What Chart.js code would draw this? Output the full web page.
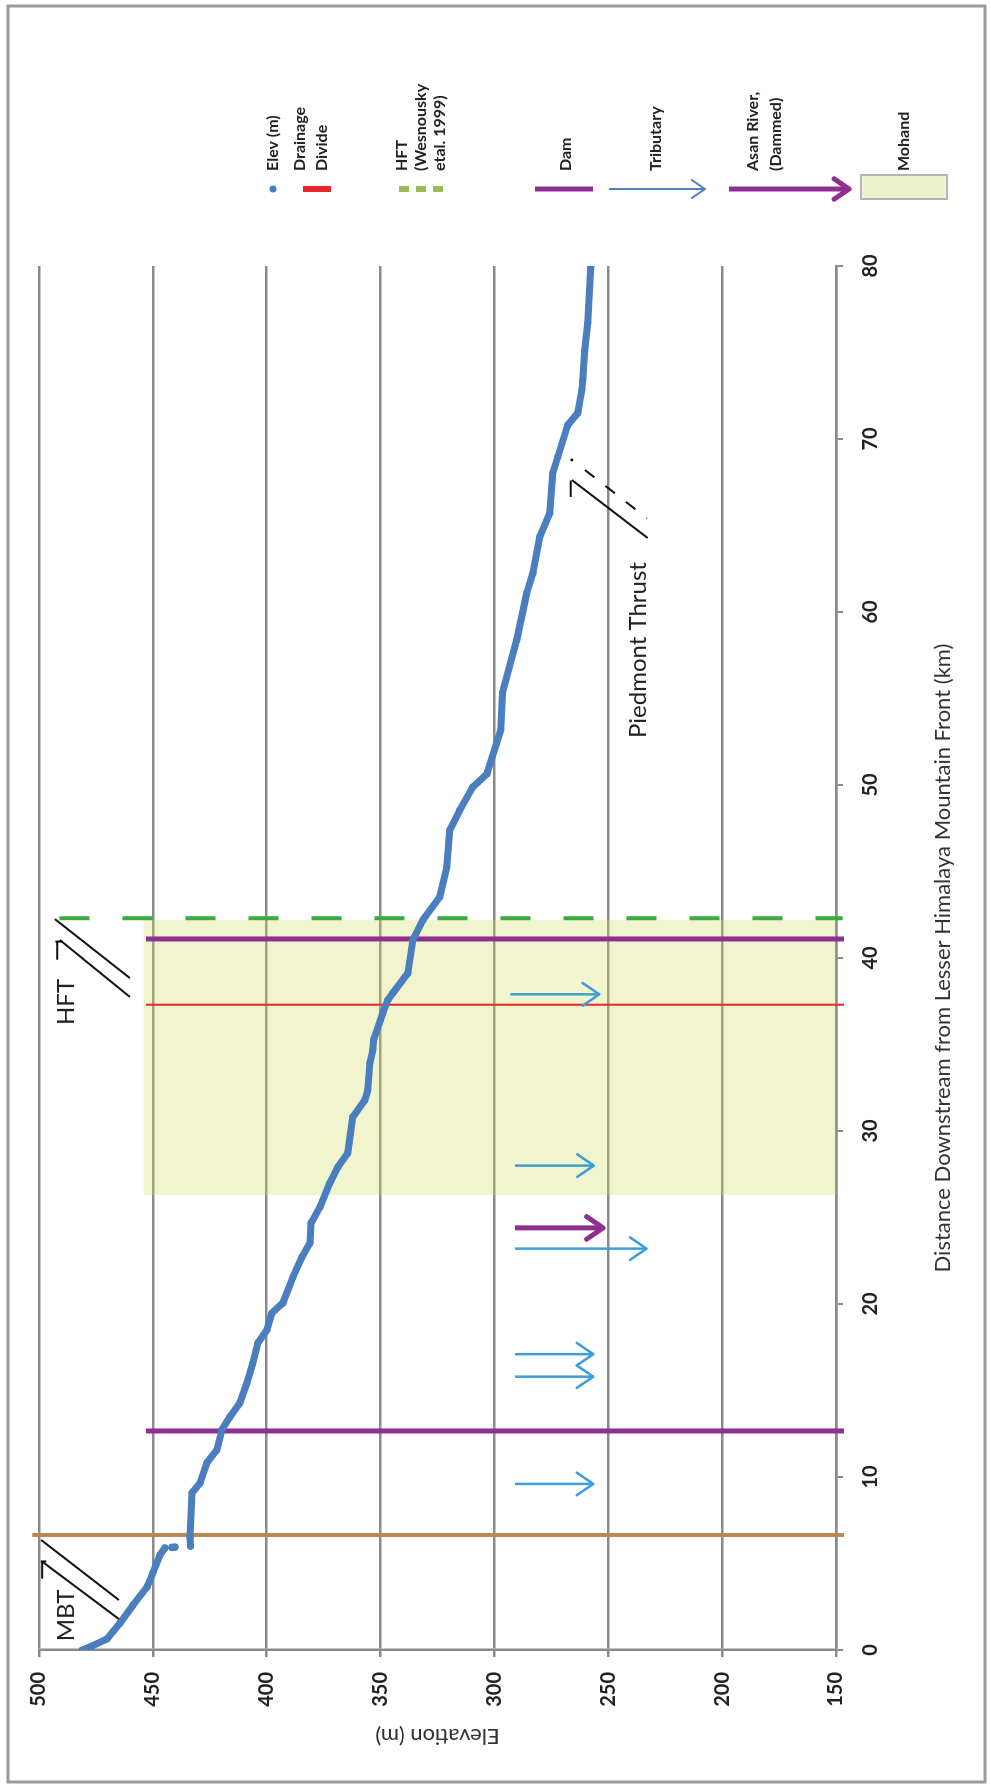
<!DOCTYPE html>
<html>
<head>
<meta charset="utf-8">
<script src="https://cdn.jsdelivr.net/npm/chart.js@4.4.1/dist/chart.umd.min.js"></script>
<style>
  html, body { margin: 0; padding: 0; background: #fff; }
  body { width: 991px; height: 1787px; overflow: hidden; position: relative; }
  /* the figure is a normal chart turned 90 degrees counter-clockwise */
  #giro { position: absolute; left: 0; top: 0; width: 1787px; height: 991px;
          transform-origin: 0 0; transform: translate(0, 1787px) rotate(-90deg); }
</style>
</head>
<body>
<div id="giro"><canvas id="perfil" width="1787" height="991"></canvas></div>
<script>
// river profile: distance downstream (km) and elevation (m), null = gap in the points
const distKm = [0, 0.23, 0.64, 1.56, 2.6, 3.64, 4.45, 5.49, 5.9, 5.91, 5.92, 5.95, 5.97,
  6.0, 6.53, 9.08, 9.65, 10.81, 11.56, 12.72, 13.47, 14.28, 15.43, 16.59, 17.75, 18.5,
  19.48, 20.06, 21.56, 22.72, 23.53, 24.68, 25.61, 26.99, 27.92, 28.73, 30.81, 31.79,
  32.37, 33.93, 34.68, 35.3, 36.82, 37.57, 37.98, 39.13, 41.04, 42.2, 43.53, 45.26,
  47.4, 48.55, 49.88, 50.64, 53.2, 55.32, 58.38, 61.1, 62.25, 64.34, 65.72, 68.03,
  68.96, 70.81, 71.5, 72.83, 73.41, 75.14, 76.71, 79.94];
const elevM = [481, 476.7, 470.1, 464.4, 458.7, 452.6, 450.0, 446.9, 444.7, null, 441.6, 440.3, null,
  433.5, 433.7, 432.8, 429.3, 426.3, 421.9, 419.7, 416.2, 411.8, 408.7, 406.1, 403.9, 399.9,
  397.7, 392.9, 388.5, 384.5, 381.0, 380.5, 376.6, 372.3, 368.7, 364.4, 362.2, 356.9,
  355.6, 354.7, 353.4, 353.0, 349.0, 346.8, 344.6, 338.0, 335.8, 331.4, 324.0, 320.9,
  319.6, 315.2, 309.5, 303.3, 297.2, 296.5, 290.2, 285.8, 283.1, 280.1, 275.7, 274.4,
  272.2, 267.8, 263.4, 261.6, 261.2, 260.3, 259.0, 257.7];

// vertical markers (km) and their elevation span (m)
const mbtKm = 6.65, mbtSpan = [503, 146.5];
const damKm = [12.66, 41.1], damSpan = [453, 146.5];
const divideKm = 37.3, divideSpan = [453, 146.5];
const hftKm = 42.3, hftSpan = [491, 147];

// tributary arrows: where (km), start and tip (m)
const tribKm = [9.6, 15.8, 17.1, 23.2, 28.0, 37.9];
const tribTop = [291, 291, 291, 291, 291, 293];
const tribTip = [256.6, 256.6, 256.6, 233.2, 256.4, 254];
const asanKm = 24.4, asanTop = 291, asanTip = 252.3;

// Mohand range (km) and top of the shaded block (m)
const mohandKm = [26.3, 42.2], mohandTop = 454;

// axis ticks
const distTicks = [0, 10, 20, 30, 40, 50, 60, 70, 80];
const elevTicks = [150, 200, 250, 300, 350, 400, 450, 500];

const legendLabels = [['Elev (m)'], ['Drainage', 'Divide'], ['HFT', '(Wesnousky', 'etal. 1999)'],
  ['Dam'], ['Tributary'], ['Asan River,', '(Dammed)'], ['Mohand']];

// colours
const azul = '#4a7ebf', vermelho = '#e5262b', verde = '#3bab3f', roxo = '#8f2f8f',
  marrom = '#b9884f', ciano = '#3d9ed9', cinza = '#8a8a8a';

function vline(km, span) { return [{ x: km, y: span[0] }, { x: km, y: span[1] }]; }

const datasets = [];
datasets.push({ label: 'Elev (m)', data: distKm.map((d, i) => ({ x: d, y: elevM[i] })),
  showLine: true, spanGaps: false, borderColor: azul, backgroundColor: azul, borderWidth: 7,
  pointRadius: 3.5, pointBorderWidth: 0, borderJoinStyle: 'round', borderCapStyle: 'round', order: 0 });
datasets.push({ label: 'MBT', data: vline(mbtKm, mbtSpan), showLine: true, borderColor: marrom,
  borderWidth: 4, pointRadius: 0, clip: 12, order: 3 });
datasets.push({ label: 'Dam', data: [...vline(damKm[0], damSpan), { x: damKm[0], y: null }, ...vline(damKm[1], damSpan)],
  showLine: true, spanGaps: false, borderColor: roxo, borderWidth: 5, pointRadius: 0, clip: 12, order: 2 });
datasets.push({ label: 'Drainage Divide', data: vline(divideKm, divideSpan), showLine: true,
  borderColor: vermelho, borderWidth: 2, pointRadius: 0, clip: 12, order: 2 });
datasets.push({ label: 'HFT', data: vline(hftKm, hftSpan), showLine: true, borderColor: verde,
  borderWidth: 4, borderDash: [30, 33], pointRadius: 0, clip: 12, order: 2 });
tribKm.forEach((km, i) => {
  datasets.push({ label: 'Tributary', data: [{ x: km, y: tribTop[i] }, { x: km, y: tribTip[i] }],
    showLine: true, borderColor: ciano, borderWidth: 2.5, pointRadius: 0, ponta: 20, order: 1 });
});
datasets.push({ label: 'Asan River', data: [{ x: asanKm, y: asanTop }, { x: asanKm, y: asanTip }],
  showLine: true, borderColor: roxo, borderWidth: 5, pointRadius: 0, ponta: 20, order: 1 });
datasets.push({ label: 'Mohand', data: [{ x: mohandKm[0], y: mohandTop }, { x: mohandKm[1], y: mohandTop }],
  showLine: true, fill: 'start', borderWidth: 0, pointRadius: 0, backgroundColor: 'rgba(205,222,88,0.3)', order: 10 });

// draws an open arrow head at (bx, by) coming from (ax, ay)
function ponta(ctx, ax, ay, bx, by, cor, largura, len) {
  const ang = Math.atan2(by - ay, bx - ax), abre = 0.6;
  ctx.save();
  ctx.strokeStyle = cor; ctx.lineWidth = largura; ctx.lineCap = 'round'; ctx.lineJoin = 'round';
  ctx.beginPath();
  ctx.moveTo(bx - len * Math.cos(ang - abre), by - len * Math.sin(ang - abre));
  ctx.lineTo(bx, by);
  ctx.lineTo(bx - len * Math.cos(ang + abre), by - len * Math.sin(ang + abre));
  ctx.stroke();
  ctx.restore();
}

const setas = {
  id: 'setas',
  afterDatasetsDraw(chart) {
    chart.data.datasets.forEach((ds, i) => {
      if (!ds.ponta) return;
      const pts = chart.getDatasetMeta(i).data;
      const a = pts[pts.length - 2], b = pts[pts.length - 1];
      ponta(chart.ctx, a.x, a.y, b.x, b.y, ds.borderColor, ds.borderWidth, ds.ponta);
    });
  }
};

// fault symbols and labels, in km / m
const falhas = [
  { linhas: [[6.36, 499.1, 2.89, 464.9], [5.09, 498.4, 1.79, 464.9], [5.12, 498.6, 4.12, 498.6], [5.12, 499.2, 5.12, 496.8]],
    texto: 'MBT', km: 2.0, m: 488 },
  { linhas: [[42.25, 493.0, 38.84, 460.1], [41.04, 490.8, 37.75, 460.1], [40.95, 492.0, 39.9, 492.0], [40.95, 492.8, 40.95, 489.6]],
    texto: 'HFT', km: 37.46, m: 488 },
  { linhas: [[67.63, 266.0, 64.28, 232.7], [67.6, 266.5, 66.65, 266.5]], tracejada: [68.21, 260.3, 65.43, 233.1],
    ponto: [68.79, 266.0], texto: 'Piedmont Thrust', km: 57.8, m: 237 }
];

const anotacoes = {
  id: 'anotacoes',
  afterDatasetsDraw(chart) {
    const { ctx, scales: { x, y } } = chart;
    const px = (k, m) => [x.getPixelForValue(k), y.getPixelForValue(m)];
    ctx.save();
    ctx.strokeStyle = '#111'; ctx.fillStyle = '#111'; ctx.lineWidth = 2;
    falhas.forEach(f => {
      f.linhas.forEach(l => {
        const a = px(l[0], l[1]), b = px(l[2], l[3]);
        ctx.beginPath(); ctx.moveTo(a[0], a[1]); ctx.lineTo(b[0], b[1]); ctx.stroke();
      });
      if (f.tracejada) {
        const a = px(f.tracejada[0], f.tracejada[1]), b = px(f.tracejada[2], f.tracejada[3]);
        ctx.setLineDash([12, 14]);
        ctx.beginPath(); ctx.moveTo(a[0], a[1]); ctx.lineTo(b[0], b[1]); ctx.stroke();
        ctx.setLineDash([]);
      }
      if (f.ponto) {
        const p = px(f.ponto[0], f.ponto[1]);
        ctx.beginPath(); ctx.arc(p[0], p[1], 1.5, 0, Math.PI * 2); ctx.fill();
      }
      const t = px(f.km, f.m);
      ctx.font = '24px Lato, "Open Sans", sans-serif';
      ctx.textAlign = 'center'; ctx.textBaseline = 'middle';
      ctx.fillStyle = '#222';
      ctx.fillText(f.texto, t[0], t[1]);
      ctx.fillStyle = '#111';
    });
    ctx.restore();
  }
};

// hand-made legend on the right, symbols stand vertical like the markers
const legenda = {
  id: 'legenda',
  afterDraw(chart) {
    const ctx = chart.ctx;
    const centros = [273, 311, 421, 566, 656, 764, 904];
    const entrelinha = [0, 22, 19, 0, 0, 23, 0];
    const xs = 1598, xt = 1616;
    ctx.save();
    ctx.font = 'bold 16px Lato, "Open Sans", sans-serif';
    ctx.fillStyle = '#222'; ctx.textAlign = 'left'; ctx.textBaseline = 'middle';
    legendLabels.forEach((linhas, k) => {
      const cy = centros[k], lh = entrelinha[k];
      linhas.forEach((t, j) => ctx.fillText(t, xt, cy + (j - (linhas.length - 1) / 2) * lh));
    });
    const seg = (y1, y2, cor, w, dash) => {
      ctx.save(); ctx.strokeStyle = cor; ctx.lineWidth = w; ctx.setLineDash(dash || []);
      ctx.beginPath(); ctx.moveTo(xs, y1); ctx.lineTo(xs, y2); ctx.stroke(); ctx.restore();
    };
    ctx.fillStyle = azul;
    ctx.beginPath(); ctx.arc(xs, centros[0], 3.5, 0, Math.PI * 2); ctx.fill();
    seg(centros[1] - 8, centros[1] + 20, vermelho, 6);
    seg(centros[2] - 22, centros[2] + 26, '#9bbb59', 6, [10, 7]);
    seg(centros[3] - 31, centros[3] + 27, roxo, 5);
    seg(centros[4] - 47, centros[4] + 49, '#4f81bd', 2);
    ponta(ctx, xs, centros[4], xs, centros[4] + 49, '#4f81bd', 2, 16);
    seg(centros[5] - 35, centros[5] + 84, roxo, 5);
    ponta(ctx, xs, centros[5], xs, centros[5] + 85, roxo, 5, 18);
    ctx.fillStyle = '#eef3cf'; ctx.strokeStyle = '#b5b5b5'; ctx.lineWidth = 2;
    ctx.fillRect(1588, centros[6] - 43, 24, 86);
    ctx.strokeRect(1588, centros[6] - 43, 24, 86);
    // outer frame
    ctx.strokeStyle = '#9a9a9a'; ctx.lineWidth = 3;
    ctx.strokeRect(5, 8, 1776, 977);
    ctx.restore();
  }
};

Chart.defaults.font.family = 'Lato, "Open Sans", sans-serif';
Chart.defaults.color = '#222';

new Chart(document.getElementById('perfil'), {
  type: 'scatter',
  data: { datasets: datasets },
  options: {
    responsive: false,
    devicePixelRatio: 1,
    animation: false,
    events: [],
    layout: { padding: { left: 20, right: 266, top: 39, bottom: 0 } },
    plugins: { legend: { display: false }, tooltip: { enabled: false } },
    scales: {
      x: {
        type: 'linear', position: 'bottom', min: 0, max: 80,
        afterBuildTicks: s => { s.ticks = distTicks.map(v => ({ value: v })); },
        afterFit: s => { s.height = 155; },
        ticks: { font: { size: 20, weight: 'bold' }, color: '#222', padding: 16, maxRotation: 0 },
        grid: { drawOnChartArea: false, drawTicks: true, tickLength: 7, color: cinza, lineWidth: 2 },
        border: { display: true, color: cinza, width: 2.5 },
        title: { display: true, text: 'Distance Downstream from Lesser Himalaya Mountain Front (km)',
          font: { size: 22 }, color: '#333', padding: { top: 0, bottom: 35 } }
      },
      y: {
        type: 'linear', position: 'left', min: 150, max: 500,
        afterBuildTicks: s => { s.ticks = elevTicks.map(v => ({ value: v })); },
        afterFit: s => { s.width = 117; },
        ticks: { font: { size: 20, weight: 'bold' }, color: '#222', padding: 15 },
        grid: { drawTicks: true, tickLength: 7, color: cinza, lineWidth: 2.5 },
        border: { display: true, color: cinza, width: 2.5 },
        title: { display: true, text: 'Elevation (m)', font: { size: 22 }, color: '#333',
          padding: { top: 18, bottom: 0 } }
      }
    }
  },
  plugins: [setas, anotacoes, legenda]
});
</script>
</body>
</html>
